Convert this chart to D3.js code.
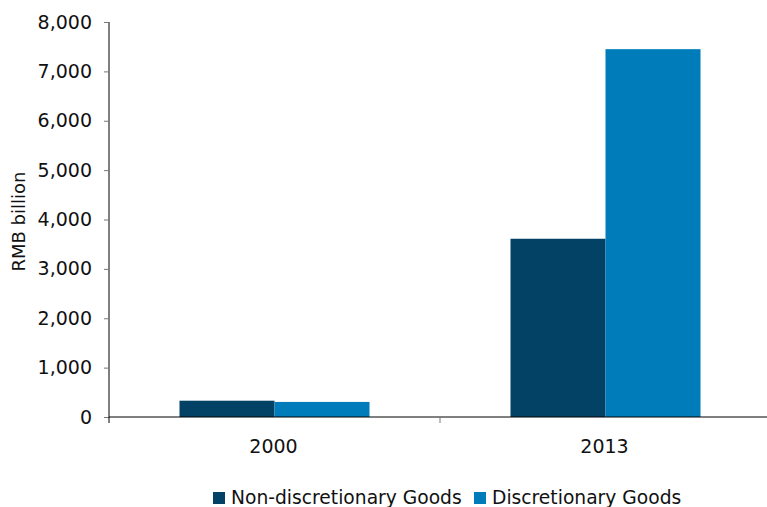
<!DOCTYPE html>
<html>
<head>
<meta charset="utf-8">
<script src="https://cdn.jsdelivr.net/npm/d3@7"></script>
<style>
  body { margin: 0; background: #fff; }
  svg { font-family: "DejaVu Sans", Verdana, sans-serif; }
</style>
</head>
<body>
<svg id="chart"></svg>
<script>
var years = ["2000", "2013"];
var seriesNames = ["Non-discretionary Goods", "Discretionary Goods"];
var nonDiscretionary = [330, 3610];
var discretionary = [305, 7450];
var yTicks = [0, 1000, 2000, 3000, 4000, 5000, 6000, 7000, 8000];
var colors = ["#034264", "#007cba"];

var screen = { width: 767, height: 507 };
var margins = { left: 109, right: -4, top: 22, bottom: 90 };
var graph = {
    width: screen.width - margins.left - margins.right,
    height: screen.height - margins.top - margins.bottom
};

var svg = d3.select("#chart")
    .attr("width", screen.width)
    .attr("height", screen.height);

var target = svg.append("g")
    .attr("transform", "translate(" + margins.left + "," + margins.top + ")");

var xScale = d3.scaleBand()
    .domain(years)
    .range([0, graph.width]);

var inner = d3.scaleBand()
    .domain([0, 1])
    .range([0, xScale.bandwidth()])
    .paddingOuter(0.742)
    .paddingInner(0);

var yScale = d3.scaleLinear()
    .domain([0, 8000])
    .range([graph.height, 0]);

var rows = years.map(function (y, i) {
    return { year: y, values: [nonDiscretionary[i], discretionary[i]] };
});

// bars
var groups = target.selectAll("g.group")
    .data(rows)
    .enter()
    .append("g")
    .attr("transform", function (d) { return "translate(" + xScale(d.year) + ",0)"; });

groups.selectAll("rect")
    .data(function (d) { return d.values; })
    .enter()
    .append("rect")
    .attr("x", function (v, i) { return inner(i); })
    .attr("width", inner.bandwidth())
    .attr("y", function (v) { return yScale(v); })
    .attr("height", function (v) { return graph.height - yScale(v); })
    .attr("fill", function (v, i) { return colors[i]; });

// y axis
var yAxis = d3.axisLeft(yScale)
    .tickValues(yTicks)
    .tickSize(5)
    .tickPadding(12)
    .tickFormat(d3.format(","));

var yg = target.append("g").call(yAxis);
yg.attr("font-size", null).attr("font-family", null);
yg.select(".domain").attr("stroke", "#000").attr("d", "M0," + yScale(8000) + "V" + graph.height);
yg.selectAll(".tick line").attr("stroke", "#777");
yg.selectAll(".tick text").style("font-size", "19px").attr("fill", "#111");

// x axis
var xg = target.append("g")
    .attr("transform", "translate(0," + graph.height + ")");
xg.append("line")
    .attr("x1", 0).attr("x2", graph.width)
    .attr("stroke", "#000");
xg.selectAll("line.tick")
    .data([0, xScale("2013")])
    .enter()
    .append("line")
    .attr("x1", function (d) { return d; })
    .attr("x2", function (d) { return d; })
    .attr("y1", 0).attr("y2", 6)
    .attr("stroke", function (d, i) { return i === 0 ? "#000" : "#777"; });
xg.selectAll("text")
    .data(years)
    .enter()
    .append("text")
    .attr("x", function (d) { return xScale(d) + xScale.bandwidth() / 2 - 1; })
    .attr("y", 36)
    .attr("text-anchor", "middle")
    .style("font-size", "19px")
    .attr("fill", "#111")
    .text(function (d) { return d; });

// y label
svg.append("text")
    .attr("transform", "translate(25," + (margins.top + graph.height / 2 + 2) + ") rotate(-90)")
    .attr("text-anchor", "middle")
    .style("font-size", "18px")
    .attr("fill", "#111")
    .text("RMB billion");

// legend
var legendX = [213, 474];
var legend = svg.append("g")
    .selectAll("g")
    .data(seriesNames)
    .enter()
    .append("g")
    .attr("transform", function (d, i) { return "translate(" + legendX[i] + ",492)"; });
legend.append("rect")
    .attr("width", 12).attr("height", 12)
    .attr("fill", function (d, i) { return colors[i]; });
legend.append("text")
    .attr("x", 18).attr("y", 12)
    .style("font-size", "18.7px")
    .attr("fill", "#111")
    .text(function (d) { return d; });
</script>
</body>
</html>
